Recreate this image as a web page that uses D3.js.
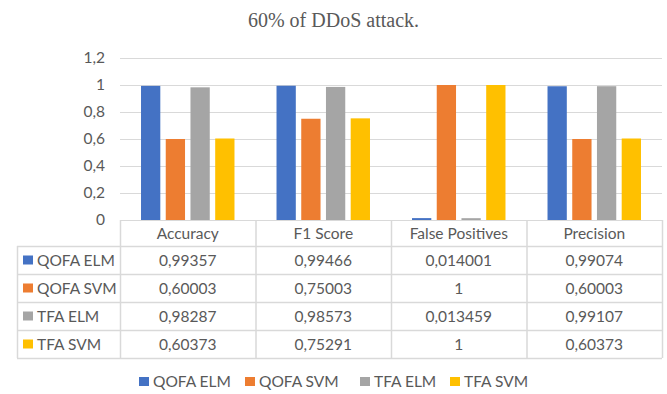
<!DOCTYPE html>
<html>
<head>
<meta charset="utf-8">
<script src="https://cdn.jsdelivr.net/npm/d3@7"></script>
<style>
  html, body { margin: 0; padding: 0; background: #fff; }
  svg { display: block; }
</style>
</head>
<body>
<svg id="chart" width="667" height="394"></svg>
<script>
// Metrics shown on the x axis / table columns
const categories = ["Accuracy", "F1 Score", "False Positives", "Precision"];
// Classifier series
const seriesNames = ["QOFA ELM", "QOFA SVM", "TFA ELM", "TFA SVM"];
const qofaElm = [0.99357, 0.99466, 0.014001, 0.99074];
const qofaSvm = [0.60003, 0.75003, 1, 0.60003];
const tfaElm  = [0.98287, 0.98573, 0.013459, 0.99107];
const tfaSvm  = [0.60373, 0.75291, 1, 0.60373];
const yTicks = [0, 0.2, 0.4, 0.6, 0.8, 1, 1.2];
const colors = ["#4472C4", "#ED7D31", "#A5A5A5", "#FFC000"];

const seriesValues = [qofaElm, qofaSvm, tfaElm, tfaSvm];

const svg = d3.select("#chart");
const W = 667, H = 394;
const plot = { left: 120, right: 662, top: 58, bottom: 220 };
const tableLeft = 17;
const rowH = 28;
const headerH = 26;
const txt = "#595959";
const grid = "#D9D9D9";
const font = "Lato, 'Open Sans', sans-serif";
const fs = 15.5;

// Title
svg.append("text")
  .attr("x", W / 2) .attr("y", 27)
  .attr("text-anchor", "middle")
  .attr("font-family", "'Liberation Serif', 'DejaVu Serif', serif")
  .attr("font-size", 20)
  .attr("fill", txt)
  .text("60% of DDoS attack.");

const x0 = d3.scaleBand().domain(categories).range([plot.left, plot.right]).paddingInner(0).paddingOuter(0);
const x1 = d3.scaleBand().domain(seriesNames).range([0, x0.bandwidth()]).paddingInner(0.22).paddingOuter(0.85);
const y = d3.scaleLinear().domain([0, 1.2]).range([plot.bottom, plot.top]);
const fmt = v => String(v).replace(".", ",");

// Gridlines and value axis labels
const yAxis = d3.axisLeft(y).tickValues(yTicks).tickSize(-(plot.right - plot.left)).tickFormat(fmt).tickPadding(15);
const gy = svg.append("g").attr("transform", `translate(${plot.left},0)`).call(yAxis);
gy.select(".domain").remove();
gy.selectAll(".tick line").attr("stroke", grid).attr("stroke-width", 1);
gy.selectAll(".tick text")
  .attr("fill", txt).attr("font-family", font).attr("font-size", fs);

// Bars
const groups = svg.append("g").selectAll("g")
  .data(categories)
  .join("g")
  .attr("transform", d => `translate(${x0(d)},0)`);

groups.selectAll("rect")
  .data((c, ci) => seriesNames.map((s, si) => ({ s, si, v: seriesValues[si][ci] })))
  .join("rect")
  .attr("x", d => x1(d.s))
  .attr("width", x1.bandwidth())
  .attr("y", d => y(d.v))
  .attr("height", d => y(0) - y(d.v))
  .attr("fill", d => colors[d.si]);

// Data table
const table = svg.append("g");
const tableBottom = plot.bottom + headerH + rowH * seriesNames.length;
const lineColor = "#D9D9D9";

table.append("line").attr("x1", plot.left).attr("x2", plot.right)
  .attr("y1", plot.bottom + 0.5).attr("y2", plot.bottom + 0.5).attr("stroke", lineColor);
for (let i = 0; i <= seriesNames.length; i++) {
  const yy = plot.bottom + headerH + i * rowH + 0.5;
  table.append("line").attr("x1", tableLeft).attr("x2", plot.right)
    .attr("y1", yy).attr("y2", yy).attr("stroke", lineColor).attr("stroke-width", 1.5);
}
table.append("line").attr("x1", tableLeft + 0.5).attr("x2", tableLeft + 0.5)
  .attr("y1", plot.bottom + headerH).attr("y2", tableBottom).attr("stroke", lineColor).attr("stroke-width", 1.5);
categories.forEach(c => {
  const xx = x0(c);
  table.append("line").attr("x1", xx + 0.5).attr("x2", xx + 0.5)
    .attr("y1", plot.bottom).attr("y2", tableBottom).attr("stroke", lineColor).attr("stroke-width", 1.5);
});
table.append("line").attr("x1", plot.right + 0.5).attr("x2", plot.right + 0.5)
  .attr("y1", plot.bottom).attr("y2", tableBottom).attr("stroke", lineColor).attr("stroke-width", 1.5);

// Header labels
table.selectAll("text.hdr")
  .data(categories)
  .join("text")
  .attr("class", "hdr")
  .attr("x", d => x0(d) + x0.bandwidth() / 2)
  .attr("y", plot.bottom + headerH / 2 + 5.5)
  .attr("text-anchor", "middle")
  .attr("font-family", font).attr("font-size", fs).attr("fill", txt)
  .text(d => d);

// Rows
seriesNames.forEach((s, si) => {
  const cy = plot.bottom + headerH + si * rowH + rowH / 2;
  table.append("rect")
    .attr("x", 23).attr("y", cy - 4.5).attr("width", 10).attr("height", 9)
    .attr("fill", colors[si]);
  table.append("text")
    .attr("x", 37).attr("y", cy + 5.5)
    .attr("font-family", font).attr("font-size", fs).attr("fill", txt)
    .text(s);
  categories.forEach((c, ci) => {
    table.append("text")
      .attr("x", x0(c) + x0.bandwidth() / 2)
      .attr("y", cy + 5.5)
      .attr("text-anchor", "middle")
      .attr("font-family", font).attr("font-size", fs).attr("fill", txt)
      .text(fmt(seriesValues[si][ci]));
  });
});

// Legend
const legendX = [139, 245, 360, 450];
const legend = svg.append("g");
seriesNames.forEach((s, si) => {
  legend.append("rect")
    .attr("x", legendX[si]).attr("y", 377).attr("width", 10).attr("height", 9)
    .attr("fill", colors[si]);
  legend.append("text")
    .attr("x", legendX[si] + 14).attr("y", 387)
    .attr("font-family", font).attr("font-size", fs).attr("fill", txt)
    .text(s);
});
</script>
</body>
</html>
